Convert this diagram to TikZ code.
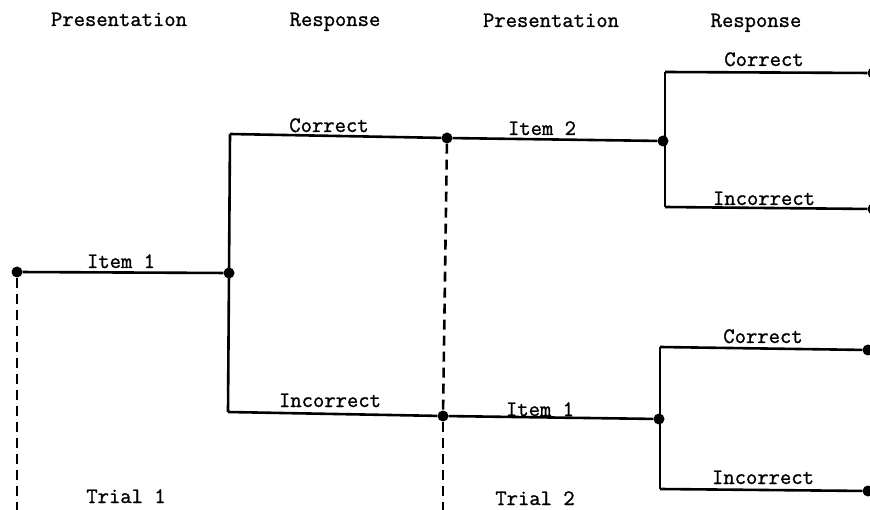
\documentclass[tikz,border=0pt]{standalone}
\usepackage{fontspec}
\newfontfamily\tw{Latin Modern Mono}[FakeBold=1.2]
\begin{document}
\begin{tikzpicture}[x=1pt,y=-1pt,
  dot/.style={circle,fill=black,inner sep=0pt,minimum size=11pt},
  branch/.style={line width=2.6pt},
  trial/.style={line width=2.6pt,dash pattern=on 10pt off 6pt},
  lbl/.style={anchor=base,inner sep=0pt,font=\fontsize{22}{26}\tw}]
\useasboundingbox (0,0) rectangle (870,510);
% headers
\node[lbl] (h1) at (119,26) {Presentation};
\node[lbl] (h2) at (335,26) {Response};
\node[lbl] (h3) at (551,27) {Presentation};
\node[lbl] (h4) at (756,27) {Response};
% junction points
\node[dot] (a) at (17,272) {};
\node[dot] (b) at (229,273) {};
\coordinate (bt) at (230,134);
\coordinate (bb) at (228,412);
\node[dot] (c) at (447,138) {};
\node[dot] (d) at (443,416) {};
\node[dot] (e) at (663,141) {};
\coordinate (et) at (665,72);
\coordinate (eb) at (665,207);
\node[dot] (f) at (659,419) {};
\coordinate (ft) at (660,347);
\coordinate (fb) at (660,489);
\node[dot] (g1) at (873,73) {};
\node[dot] (g2) at (873,209) {};
\node[dot] (g3) at (868,350) {};
\node[dot] (g4) at (868,491) {};
\coordinate (a0) at (17,510);
\coordinate (d0) at (443,510);
% dashed trial separators
\draw[trial] (a) -- (a0);
\draw[trial] (c) -- (d);
\draw[trial] (d) -- (d0);
% tree
\draw[branch] (a) -- (b);
\draw[branch] (bt) -- (bb);
\draw[branch] (bt) -- (c);
\draw[branch] (bb) -- (d);
\draw[branch] (c) -- (e);
\draw[branch] (d) -- (f);
\draw[branch] (et) -- (eb);
\draw[branch] (et) -- (g1);
\draw[branch] (eb) -- (g2);
\draw[branch] (ft) -- (fb);
\draw[branch] (ft) -- (g3);
\draw[branch] (fb) -- (g4);
% labels
\node[lbl] (l1) at (121,268) {Item 1};
\node[lbl] (l2) at (329,132) {Correct};
\node[lbl] (l3) at (330,407) {Incorrect};
\node[lbl] (l4) at (542,135) {Item 2};
\node[lbl] (l5) at (540,416) {Item 1};
\node[lbl] (l6) at (764,66) {Correct};
\node[lbl] (l7) at (764,205) {Incorrect};
\node[lbl] (l8) at (763,343) {Correct};
\node[lbl] (l9) at (763,484) {Incorrect};
\node[lbl] (t1) at (126,503) {Trial 1};
\node[lbl] (t2) at (535,505) {Trial 2};
\end{tikzpicture}
\end{document}
